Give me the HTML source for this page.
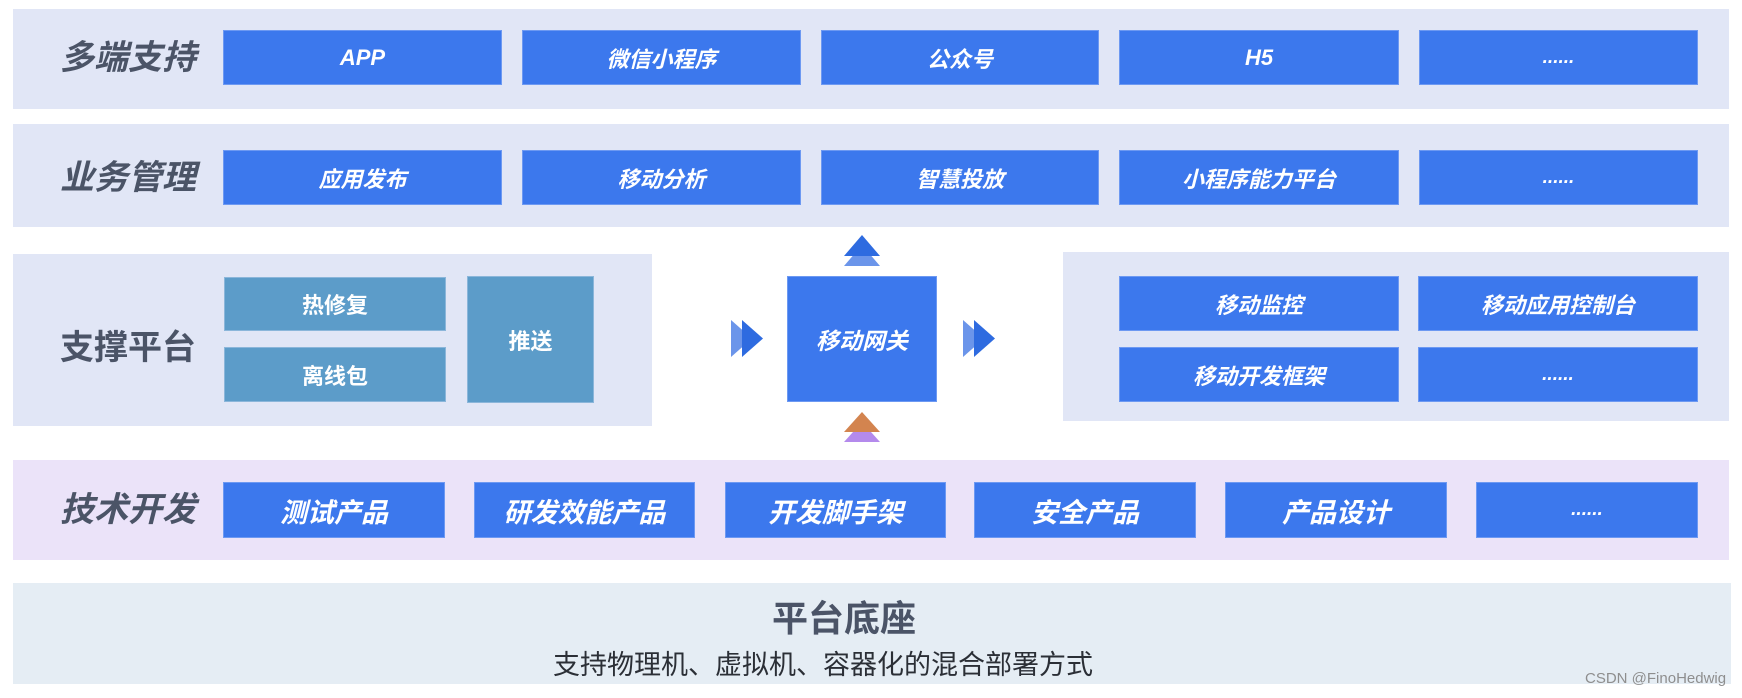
<!DOCTYPE html>
<html>
<head>
<meta charset="utf-8">
<style>
  html,body{margin:0;padding:0;background:#fff;}
  body{width:1742px;height:698px;position:relative;overflow:hidden;
       font-family:"Liberation Sans","Noto Sans CJK SC",sans-serif;}
  .band{position:absolute;background:#e1e6f6;}
  .lbl{position:absolute;left:44px;width:168px;text-align:center;color:#4b5467;
       font-weight:bold;font-size:34px;font-style:italic;line-height:40px;white-space:nowrap;}
  .b{position:absolute;background:#3c78ed;color:#fff;font-weight:bold;font-style:italic;
     font-size:22px;display:flex;align-items:center;justify-content:center;
     box-shadow:inset 0 0 0 1px rgba(150,180,245,0.55);white-space:nowrap;}
  .t{background:#5c9cc9;font-style:normal;box-shadow:inset 0 0 0 1px rgba(170,200,230,0.6);}
  .r1{top:30px;height:55px;}
  .r2{top:150px;height:55px;}
  .r4{top:482px;height:56px;font-size:27px;}
  .dots{font-size:19px;letter-spacing:0;}
</style>
</head>
<body>
<!-- Row 1 -->
<div class="band" style="left:13px;top:9px;width:1716px;height:100px;"></div>
<div class="lbl" style="top:38px;">多端支持</div>
<div class="b r1" style="left:223px;width:279px;">APP</div>
<div class="b r1" style="left:522px;width:279px;">微信小程序</div>
<div class="b r1" style="left:821px;width:278px;">公众号</div>
<div class="b r1" style="left:1119px;width:280px;">H5</div>
<div class="b r1 dots" style="left:1419px;width:279px;">......</div>

<!-- Row 2 -->
<div class="band" style="left:13px;top:124px;width:1716px;height:103px;"></div>
<div class="lbl" style="top:158px;">业务管理</div>
<div class="b r2" style="left:223px;width:279px;">应用发布</div>
<div class="b r2" style="left:522px;width:279px;">移动分析</div>
<div class="b r2" style="left:821px;width:278px;">智慧投放</div>
<div class="b r2" style="left:1119px;width:280px;">小程序能力平台</div>
<div class="b r2 dots" style="left:1419px;width:279px;">......</div>

<!-- Row 3 left -->
<div class="band" style="left:13px;top:254px;width:639px;height:172px;"></div>
<div class="lbl" style="top:328px;font-style:normal;">支撑平台</div>
<div class="b t" style="left:224px;top:277px;width:222px;height:54px;">热修复</div>
<div class="b t" style="left:224px;top:347px;width:222px;height:55px;">离线包</div>
<div class="b t" style="left:467px;top:276px;width:127px;height:127px;">推送</div>

<!-- Gateway -->
<div class="b" style="left:787px;top:276px;width:150px;height:126px;font-size:23px;">移动网关</div>
<svg style="position:absolute;left:0;top:0;" width="1742" height="698">
  <polygon points="844,266 880,266 862,245" fill="#6b95ea"/>
  <polygon points="844,256 880,256 862,235" fill="#2e6be0"/>
  <polygon points="844,442 880,442 862,422" fill="#b48aec"/>
  <polygon points="844,432 880,432 862,412" fill="#d3844f"/>
  <polygon points="731,320 731,357 752,338.5" fill="#6b95ea"/>
  <polygon points="742,320 742,357 763,338.5" fill="#2e6be0"/>
  <polygon points="963,320 963,357 984,338.5" fill="#6b95ea"/>
  <polygon points="974,320 974,357 995,338.5" fill="#2e6be0"/>
</svg>

<!-- Row 3 right -->
<div class="band" style="left:1063px;top:252px;width:666px;height:169px;"></div>
<div class="b" style="left:1119px;top:276px;width:280px;height:55px;">移动监控</div>
<div class="b" style="left:1418px;top:276px;width:280px;height:55px;">移动应用控制台</div>
<div class="b" style="left:1119px;top:347px;width:280px;height:55px;">移动开发框架</div>
<div class="b dots" style="left:1418px;top:347px;width:280px;height:55px;">......</div>

<!-- Row 4 -->
<div class="band" style="left:13px;top:460px;width:1716px;height:100px;background:#ebe3f9;"></div>
<div class="lbl" style="top:490px;">技术开发</div>
<div class="b r4" style="left:223px;width:222px;">测试产品</div>
<div class="b r4" style="left:474px;width:221px;">研发效能产品</div>
<div class="b r4" style="left:725px;width:221px;">开发脚手架</div>
<div class="b r4" style="left:974px;width:222px;">安全产品</div>
<div class="b r4" style="left:1225px;width:222px;">产品设计</div>
<div class="b r4 dots" style="left:1476px;width:222px;">......</div>

<!-- Row 5 -->
<div class="band" style="left:13px;top:583px;width:1718px;height:101px;background:#e5edf4;"></div>
<div style="position:absolute;left:744px;top:598px;width:200px;text-align:center;font-size:36px;font-weight:bold;color:#4b5467;line-height:42px;white-space:nowrap;">平台底座</div>
<div style="position:absolute;left:523px;top:647px;width:600px;text-align:center;font-size:27px;color:#2b2f36;line-height:36px;white-space:nowrap;">支持物理机、虚拟机、容器化的混合部署方式</div>
<div style="position:absolute;left:1585px;top:670px;font-family:'Liberation Sans',sans-serif;font-size:15px;color:#8e8e8e;line-height:18px;white-space:nowrap;">CSDN @FinoHedwig</div>
</body>
</html>
